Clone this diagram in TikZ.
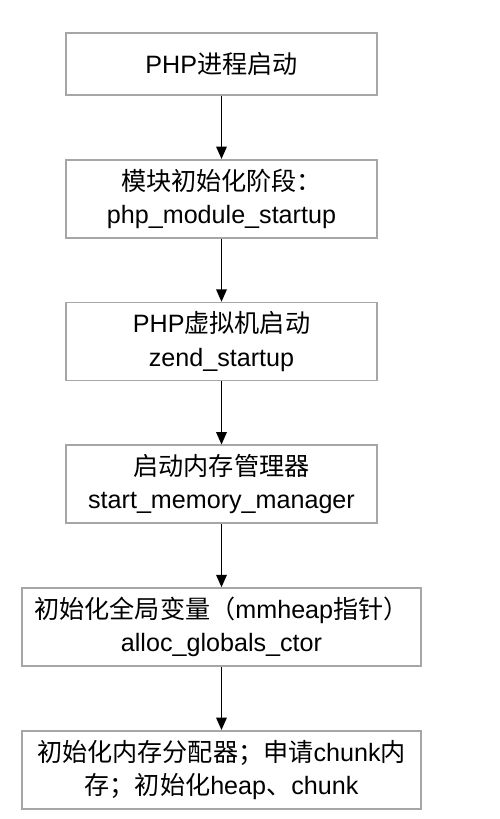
\documentclass[tikz,border=0pt]{standalone}
\usepackage{fontspec}
\setmainfont{Liberation Sans}
\newfontfamily\cjk{Noto Sans CJK SC}
\usetikzlibrary{positioning, arrows.meta}
\tikzset{>={Triangle[length=7pt,width=6pt]}}

\begin{document}
\begin{tikzpicture}[x=0.02cm, y=-0.02cm, node distance=1.264cm,
    stepbox/.style={draw=gray!70, line width=0.9pt, align=center,
      minimum width=6.22cm, minimum height=1.56cm, inner sep=0pt,
      font=\fontsize{14.3}{19}\selectfont},
    widebox/.style={stepbox, minimum width=7.98cm}]
    \useasboundingbox (0,0) rectangle (500,819);
    \node[stepbox, minimum height=1.24cm] (proc) at (221.5,64) {PHP{\cjk 进程启动}};
    \node[stepbox, below=of proc] (module) {{\cjk 模块初始化阶段：}\\php\_module\_startup};
    \node[stepbox, below=of module] (zend) {PHP{\cjk 虚拟机启动}\\zend\_startup};
    \node[stepbox, below=of zend] (mm) {{\cjk 启动内存管理器}\\start\_memory\_manager};
    \node[widebox, below=of mm] (globals) {{\cjk 初始化全局变量（}mmheap{\cjk 指针）}\\alloc\_globals\_ctor};
    \node[widebox, below=of globals] (heap) {{\cjk 初始化内存分配器；申请}chunk{\cjk 内}\\{\cjk 存；初始化}heap{\cjk 、}chunk};
    \foreach \a/\b in {proc/module, module/zend, zend/mm, mm/globals, globals/heap}
      \draw[->, line width=0.8pt] (\a) -- (\b);
\end{tikzpicture}
\end{document}
